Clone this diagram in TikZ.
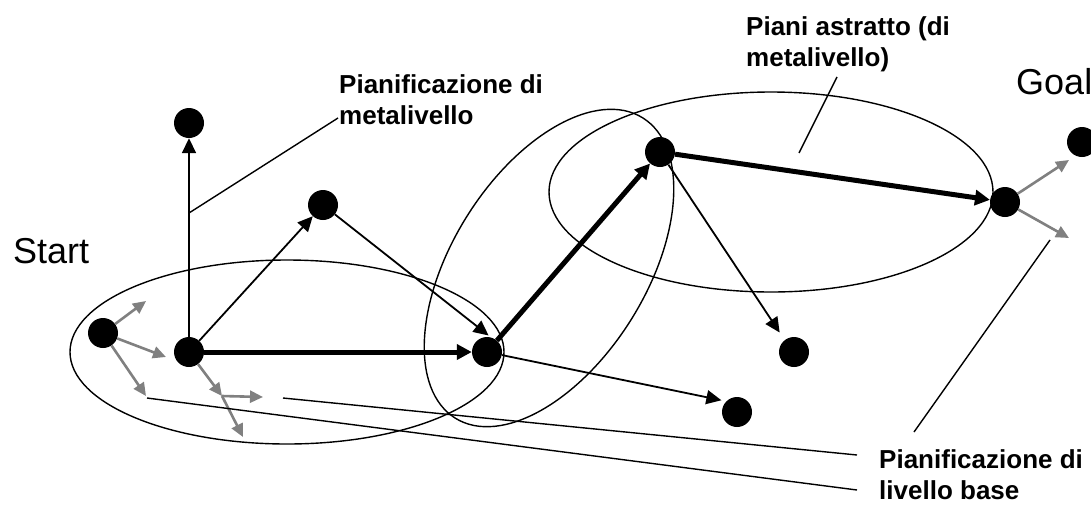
\documentclass[tikz,border=0pt]{standalone}
\usepackage{fontspec}
\setmainfont{Liberation Sans}
\usetikzlibrary{arrows.meta}
\begin{document}
\begin{tikzpicture}[x=1pt,y=-1pt,
  bdot/.style={circle,fill=black,minimum size=30pt,inner sep=0pt},
  tarrow/.style={line width=1.8pt,-{Triangle[length=15pt,width=14pt]}},
  karrow/.style={line width=5pt,-{Triangle[length=15pt,width=15pt]}},
  garrow/.style={line width=2.6pt,draw={rgb,255:red,128;green,128;blue,128},-{Triangle[length=13pt,width=12pt]}},
  ell/.style={line width=1.4pt},
  lead/.style={line width=1.4pt},
  lbl/.style={anchor=north west,align=left,inner sep=0pt,font=\fontsize{26}{31.5}\selectfont\bfseries},
  big/.style={anchor=base west,inner sep=0pt,font=\fontsize{36}{43}\selectfont}]
\clip (0,0) rectangle (1091,507);
% ellipses
\draw[ell] (287,352) ellipse [x radius=217, y radius=92];
\draw[ell, rotate around={58:(549,268)}] (549,268) ellipse [x radius=177, y radius=97];
\draw[ell] (771,192) ellipse [x radius=222, y radius=100];
% dots
\node[bdot] (L) at (103,333) {};
\node[bdot] (S) at (189,352) {};
\node[bdot] (T) at (189,123) {};
\node[bdot] (M) at (323,205) {};
\node[bdot] (C) at (487,352) {};
\node[bdot] (U) at (660,152) {};
\node[bdot] (G) at (1005,202) {};
\node[bdot] (X) at (1082,142) {};
\node[bdot] (R) at (794,352) {};
\node[bdot] (B) at (737,412) {};
% gray arrow ends
\coordinate (l1) at (146,301);
\coordinate (l2) at (166,357);
\coordinate (l3) at (146,396);
\coordinate (k) at (222,396);
\coordinate (k1) at (243,437);
\coordinate (k2) at (263,397);
\coordinate (g1) at (1069,160);
\coordinate (g2) at (1069,238);
% black arrows
\draw[tarrow] (S) -- (T);
\draw[tarrow] (S) -- (M);
\draw[tarrow, shorten >=3pt] (M) -- (C.75);
\draw[karrow] (S) -- (C);
\draw[karrow] (C) -- (U);
\draw[karrow] (U) -- (G);
\draw[tarrow, shorten >=9pt] (U) -- (R.128);
\draw[tarrow, shorten >=5pt] (C) -- (B.135);
% gray arrows
\draw[garrow] (L) -- (l1);
\draw[garrow] (L) -- (l2);
\draw[garrow] (L) -- (l3);
\draw[garrow] (S) -- (k);
\draw[garrow] (k) -- (k1);
\draw[garrow] (k) -- (k2);
\draw[garrow] (G) -- (g1);
\draw[garrow] (G) -- (g2);
% labels
\node[big] (start) at (13,263) {Start};
\node[big] (goal) at (1016,94) {Goal};
\node[lbl] (meta) at (339,74) {Pianificazione di\\metalivello};
\node[lbl] (astr) at (746,16) {Piani astratto (di\\metalivello)};
\node[lbl] (base) at (879,449) {Pianificazione di\\livello base};
% leader lines
\coordinate (ma) at (338,118);
\coordinate (mb) at (189,213);
\coordinate (aa) at (837,77);
\coordinate (ab) at (799,153);
\coordinate (ba1) at (147,398);
\coordinate (ba2) at (857,490);
\coordinate (bb1) at (283,398);
\coordinate (bb2) at (857,455);
\coordinate (ga) at (1050,240);
\coordinate (gb) at (914,432);
\draw[lead] (ma) -- (mb);
\draw[lead] (aa) -- (ab);
\draw[lead] (ba1) -- (ba2);
\draw[lead] (bb1) -- (bb2);
\draw[lead] (ga) -- (gb);
\end{tikzpicture}
\end{document}
